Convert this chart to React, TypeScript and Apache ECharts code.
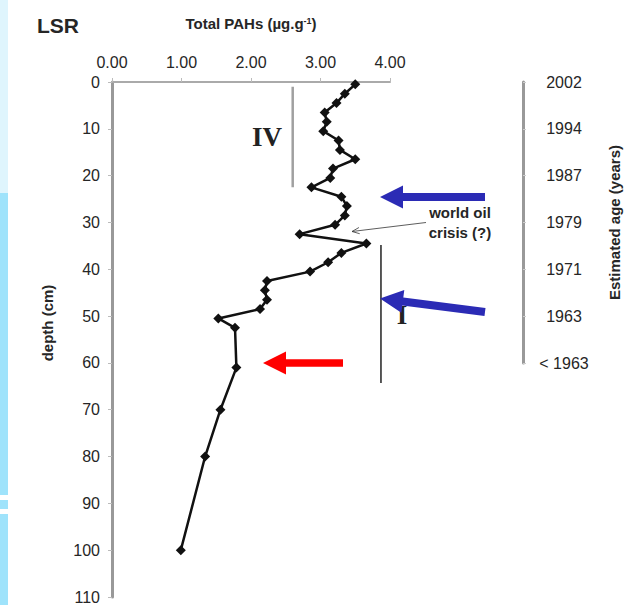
import React, { useEffect, useRef } from "react";
import * as echarts from "echarts";

// Core data: depth (cm) vs total PAHs (µg.g-1)
const depths = [0.5, 2.5, 4.5, 6.5, 8.5, 10.5, 12.5, 14.5, 16.5, 18.5, 20.5, 22.5, 24.5, 26.5, 28.5, 30.5, 32.5, 34.5, 36.5, 38.5, 40.5, 42.5, 44.5, 46.5, 48.5, 50.5, 52.5, 61, 70, 80, 100];
const pahs = [3.5, 3.35, 3.23, 3.06, 3.09, 3.04, 3.26, 3.28, 3.5, 3.18, 3.14, 2.87, 3.3, 3.38, 3.35, 3.21, 2.7, 3.66, 3.3, 3.11, 2.85, 2.23, 2.2, 2.23, 2.13, 1.53, 1.77, 1.79, 1.56, 1.34, 0.99];

// Zone marker lines [x, depth]
const zoneIVLine = [[2.6, 1], [2.6, 22.5]];
const zoneILine = [[3.87, 34.8], [3.87, 64.3]];

// Axis ticks
const xTicks = [0, 1, 2, 3, 4];
const depthTicks = [0, 10, 20, 30, 40, 50, 60, 70, 80, 90, 100, 110];
const ageDepths = [0, 10, 20, 30, 40, 50, 60];
const ageLabels = ["2002", "1994", "1987", "1979", "1971", "1963", "< 1963"];

type P = [number, number];
function arrowPoints(tip: P, tail: P, shaftW: number, headW: number, headL: number): P[] {
  const dx = tail[0] - tip[0];
  const dy = tail[1] - tip[1];
  const L = Math.hypot(dx, dy);
  const ux = dx / L, uy = dy / L;
  const nx = -uy, ny = ux;
  const bx = tip[0] + ux * headL, by = tip[1] + uy * headL;
  return [
    tip,
    [bx + nx * headW / 2, by + ny * headW / 2],
    [bx + nx * shaftW / 2, by + ny * shaftW / 2],
    [tail[0] + nx * shaftW / 2, tail[1] + ny * shaftW / 2],
    [tail[0] - nx * shaftW / 2, tail[1] - ny * shaftW / 2],
    [bx - nx * shaftW / 2, by - ny * shaftW / 2],
    [bx - nx * headW / 2, by - ny * headW / 2],
  ];
}

export default function App() {
  const ref = useRef<HTMLDivElement>(null);
  useEffect(() => {
    if (!ref.current) return;
    const chart = echarts.init(ref.current, null, { renderer: "svg" });
    const font = "Liberation Sans, Arial, sans-serif";
    const blue = "#2b2bb5";
    const red = "#ff0000";
    const txt = "#262626";
    const thinFrom: P = [426, 222.5];
    const thinTo: P = [352, 231.5];
    const ang = Math.atan2(thinFrom[1] - thinTo[1], thinFrom[0] - thinTo[0]);
    const hl = 8, ha = 0.4;
    const head: P[] = [
      [thinTo[0] + hl * Math.cos(ang + ha), thinTo[1] + hl * Math.sin(ang + ha)],
      thinTo,
      [thinTo[0] + hl * Math.cos(ang - ha), thinTo[1] + hl * Math.sin(ang - ha)],
    ];
    chart.setOption({
      animation: false,
      backgroundColor: "#ffffff",
      grid: [
        { left: 112, top: 82, width: 278, height: 515 },
        { left: 400, top: 82, width: 123, height: 281 },
      ],
      xAxis: [
        {
          gridIndex: 0,
          type: "value",
          position: "top",
          min: 0,
          max: 4,
          interval: 1,
          name: "Total PAHs (µg.g{sup|-1})",
          nameLocation: "middle",
          nameGap: 51,
          nameTextStyle: {
            fontFamily: font,
            fontWeight: "bold",
            fontSize: 15,
            color: txt,
            rich: { sup: { fontSize: 9, fontWeight: "bold", verticalAlign: "top", color: txt, padding: [0, 0, 6, 0] } },
          },
          axisLine: { show: true, onZero: false, lineStyle: { color: "#aaa", width: 2 } },
          axisTick: { show: true, inside: false, length: 4, lineStyle: { color: "#bbb", width: 1 } },
          axisLabel: {
            formatter: (v: number) => v.toFixed(2),
            fontFamily: font,
            fontSize: 16,
            color: txt,
            margin: 12,
            customValues: xTicks,
          },
          splitLine: { show: false },
        },
        { gridIndex: 1, type: "value", show: false, min: 0, max: 1 },
      ],
      yAxis: [
        {
          gridIndex: 0,
          type: "value",
          inverse: true,
          min: 0,
          max: 110,
          interval: 10,
          axisLine: { show: true, onZero: false, lineStyle: { color: "#999", width: 3 } },
          axisTick: { show: true, length: 4, lineStyle: { color: "#bbb", width: 1 } },
          axisLabel: {
            fontFamily: font,
            fontSize: 16,
            color: txt,
            margin: 12,
            customValues: depthTicks,
          },
          splitLine: { show: false },
        },
        {
          gridIndex: 1,
          type: "value",
          position: "right",
          inverse: true,
          min: 0,
          max: 60,
          interval: 10,
          name: "Estimated age (years)",
          nameLocation: "middle",
          nameGap: 84,
          nameRotate: 90,
          nameTextStyle: { fontFamily: font, fontWeight: "bold", fontSize: 15, color: txt },
          axisLine: { show: true, onZero: false, lineStyle: { color: "#999", width: 3 } },
          axisTick: { show: true, length: 3, lineStyle: { color: "#ccc", width: 1 } },
          axisLabel: {
            fontFamily: font,
            fontSize: 16,
            color: txt,
            align: "center",
            margin: 41,
            formatter: (v: number) => {
              const i = ageDepths.indexOf(v);
              return i >= 0 ? ageLabels[i] : "";
            },
          },
          splitLine: { show: false },
        },
      ],
      series: [
        {
          type: "line",
          xAxisIndex: 0,
          yAxisIndex: 0,
          data: zoneIVLine,
          symbol: "none",
          lineStyle: { color: "#a0a0a0", width: 2.5 },
          silent: true,
          z: 1,
        },
        {
          type: "line",
          xAxisIndex: 0,
          yAxisIndex: 0,
          data: zoneILine,
          symbol: "none",
          lineStyle: { color: "#222", width: 1.5 },
          silent: true,
          z: 1,
        },
        {
          type: "line",
          xAxisIndex: 0,
          yAxisIndex: 0,
          data: depths.map((d, i) => [pahs[i], d]),
          symbol: "diamond",
          symbolSize: 10,
          itemStyle: { color: "#111" },
          lineStyle: { color: "#111", width: 2.5 },
          z: 3,
        },
      ],
      graphic: [
        { type: "rect", shape: { x: 0, y: 0, width: 8, height: 193 }, style: { fill: "#dff5fd" }, silent: true },
        { type: "rect", shape: { x: 0, y: 193, width: 8, height: 302 }, style: { fill: "#9fe3fb" }, silent: true },
        { type: "rect", shape: { x: 0, y: 500, width: 8, height: 9 }, style: { fill: "#9fe3fb" }, silent: true },
        { type: "rect", shape: { x: 0, y: 514, width: 8, height: 91 }, style: { fill: "#9fe3fb" }, silent: true },
        {
          type: "text",
          x: 37,
          y: 25,
          style: { text: "LSR", fontFamily: font, fontWeight: "bold", fontSize: 21, fill: txt, verticalAlign: "middle" },
        },
        {
          type: "text",
          x: 47,
          y: 323,
          rotation: Math.PI / 2,
          style: { text: "depth (cm)", fontFamily: font, fontWeight: "bold", fontSize: 15, fill: txt, align: "center", verticalAlign: "middle" },
        },
        {
          type: "text",
          x: 267,
          y: 137,
          style: { text: "IV", fontFamily: "Liberation Serif, Times New Roman, serif", fontWeight: "bold", fontSize: 27, fill: "#222", align: "center", verticalAlign: "middle" },
        },
        {
          type: "text",
          x: 402,
          y: 315,
          style: { text: "I", fontFamily: "Liberation Serif, Times New Roman, serif", fontWeight: "bold", fontSize: 27, fill: "#222", align: "center", verticalAlign: "middle" },
        },
        {
          type: "text",
          x: 460,
          y: 222.5,
          style: {
            text: "world oil\ncrisis (?)",
            fontFamily: font,
            fontWeight: "bold",
            fontSize: 15,
            lineHeight: 20,
            fill: txt,
            align: "center",
            verticalAlign: "middle",
          },
        },
        {
          type: "line",
          shape: { x1: thinFrom[0], y1: thinFrom[1], x2: thinTo[0], y2: thinTo[1] },
          style: { stroke: "#333", lineWidth: 0.8 },
        },
        {
          type: "polyline",
          shape: { points: head },
          style: { stroke: "#333", lineWidth: 0.8, fill: null },
        },
        {
          type: "polygon",
          shape: { points: arrowPoints([380, 197], [485, 197], 8, 23, 23) },
          style: { fill: blue },
          z: 10,
        },
        {
          type: "polygon",
          shape: { points: arrowPoints([380, 298.5], [485, 312], 8, 23, 23) },
          style: { fill: blue },
          z: 10,
        },
        {
          type: "polygon",
          shape: { points: arrowPoints([263, 363], [343, 363], 7.5, 23, 23) },
          style: { fill: red },
          z: 10,
        },
      ],
    });
    return () => chart.dispose();
  }, []);
  return (
    <div
      ref={ref}
      style={{ position: "absolute", left: 0, top: 0, width: 638, height: 605 }}
    />
  );
}
